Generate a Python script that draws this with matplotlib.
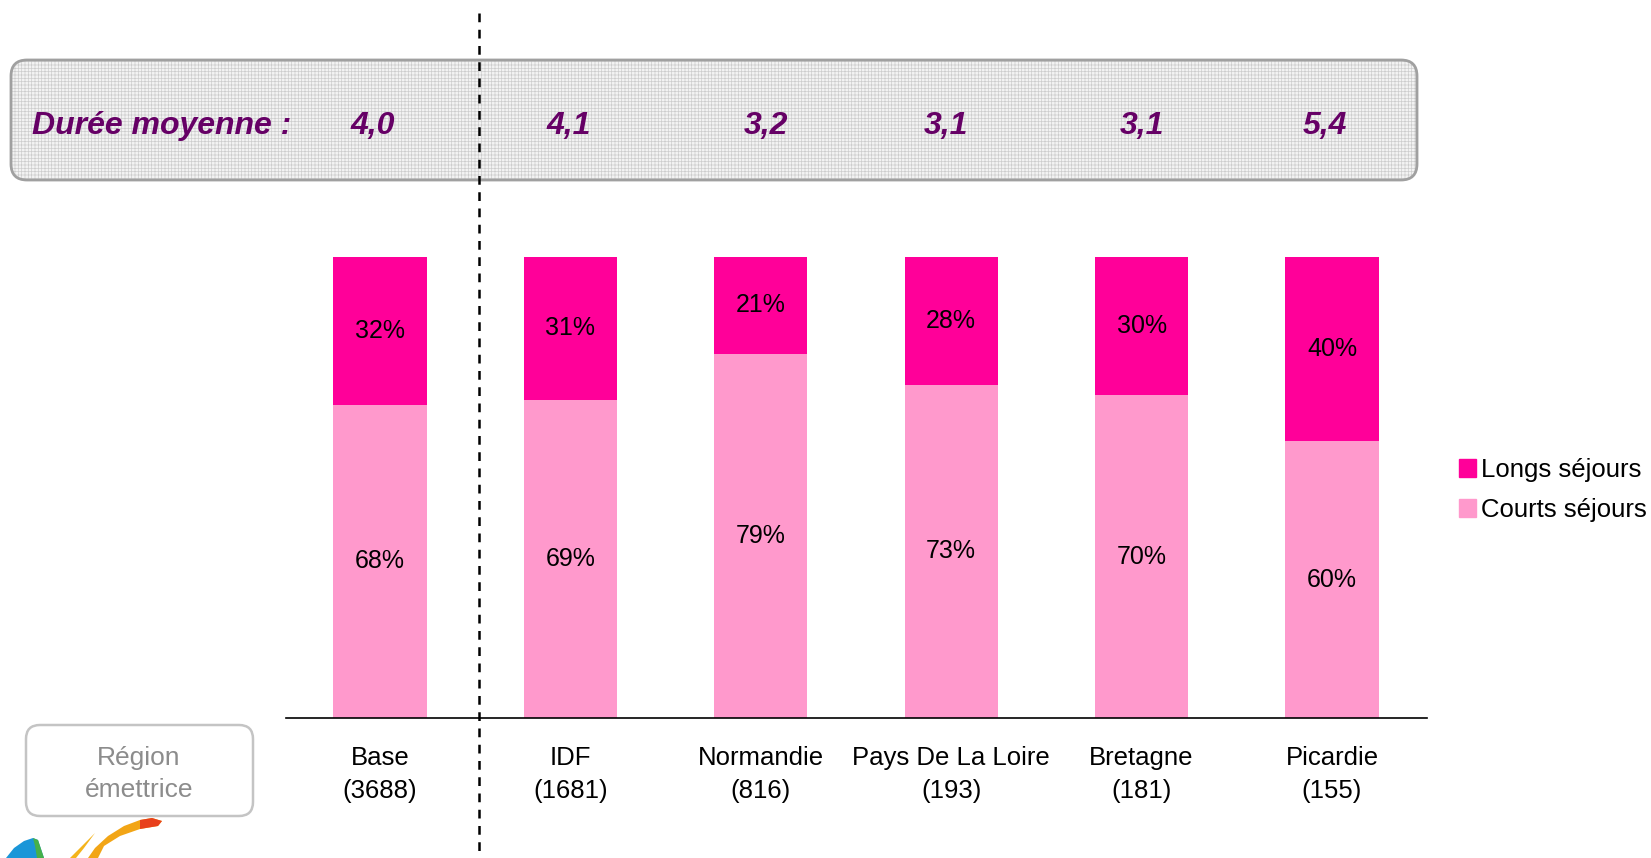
import matplotlib
matplotlib.use("Agg")
import matplotlib.pyplot as plt
from matplotlib.patches import FancyBboxPatch, Patch, Polygon
from matplotlib.lines import Line2D
from matplotlib.transforms import blended_transform_factory
import numpy as np

plt.rcParams['font.family'] = ['Liberation Sans', 'DejaVu Sans']
plt.rcParams['hatch.linewidth'] = 0.5

# ---- data ----
categories = ["Base", "IDF", "Normandie", "Pays De La Loire", "Bretagne", "Picardie"]
bases = ["(3688)", "(1681)", "(816)", "(193)", "(181)", "(155)"]
courts = [68, 69, 79, 73, 70, 60]
longs = [32, 31, 21, 28, 30, 40]
durees = ["4,0", "4,1", "3,2", "3,1", "3,1", "5,4"]
series_names = ["Longs séjours", "Courts séjours"]

col_longs = "#FF0099"
col_courts = "#FF99CC"
purple = "#660066"

W, H = 1651, 858
fig = plt.figure(figsize=(W / 100, H / 100), dpi=100)

# overlay in pixel coordinates
ov = fig.add_axes([0, 0, 1, 1], zorder=0)
ov.set_xlim(0, W)
ov.set_ylim(H, 0)
ov.axis("off")

# main axes
x0, x1, y0, y1 = 286, 1427, 718, 257
ax = fig.add_axes([x0 / W, 1 - y0 / H, (x1 - x0) / W, (y0 - y1) / H], zorder=2)
ax.patch.set_alpha(0)

x = np.arange(len(categories))
tot = np.array(courts, float) + np.array(longs, float)
c_pct = np.array(courts) / tot * 100
l_pct = np.array(longs) / tot * 100
width = 0.49
ax.bar(x, c_pct, width, color=col_courts, label=series_names[1])
ax.bar(x, l_pct, width, bottom=c_pct, color=col_longs, label=series_names[0])
for i in range(len(x)):
    ax.text(x[i], c_pct[i] / 2, f"{courts[i]}%", ha="center", va="center", fontsize=18, color="black")
    ax.text(x[i], c_pct[i] + l_pct[i] / 2, f"{longs[i]}%", ha="center", va="center", fontsize=18, color="black")

ax.set_xlim(-0.494, 5.499)
ax.set_ylim(0, 100)
for s in ["top", "right", "left"]:
    ax.spines[s].set_visible(False)
ax.spines["bottom"].set_color("black")
ax.spines["bottom"].set_linewidth(1.2)
ax.set_yticks([])
ax.set_xticks(x)
ax.set_xticklabels([f"{c}\n{b}" for c, b in zip(categories, bases)], fontsize=18.5, linespacing=1.5)
ax.tick_params(axis="x", length=0, pad=20)

# legend
handles = [Patch(color=col_longs), Patch(color=col_courts)]
fig.legend(handles, series_names, loc="center left",
           bbox_to_anchor=(1459 / W, 1 - 490 / H), frameon=False, fontsize=18.5,
           handlelength=0.66, handleheight=0.66, handletextpad=0.2,
           labelspacing=0.62, borderpad=0, borderaxespad=0)

# header box
box_kw = dict(boxstyle="round,pad=0,rounding_size=16")
hb = FancyBboxPatch((11, 60), 1406, 120, facecolor="#f3f3f3", edgecolor="#cdcdcd",
                    hatch="+++++", linewidth=0, **box_kw)
ov.add_patch(hb)
hb2 = FancyBboxPatch((11, 60), 1406, 120, facecolor="none", edgecolor="#a0a0a0",
                     linewidth=2, **box_kw)
ov.add_patch(hb2)
ov.text(32, 126, "Durée moyenne :", fontsize=23, fontweight="bold", fontstyle="italic",
        color=purple, ha="left", va="center")
tr = blended_transform_factory(ax.transData, ov.transData)
hdr_offsets = [-0.04, -0.01, 0.025, -0.03, 0.003, -0.04]
for i, d in enumerate(durees):
    ax.text(x[i] + hdr_offsets[i], 126, d, transform=tr, fontsize=23, fontweight="bold",
            fontstyle="italic", color=purple, ha="center", va="center", clip_on=False)

# dashed separator
ov.add_line(Line2D([479, 479], [13, H], color="black", linewidth=1.8,
                   dashes=(3.5, 3), zorder=5))

# "Région émettrice" box
rb = FancyBboxPatch((26, 725), 227, 91, boxstyle="round,pad=0,rounding_size=14",
                    facecolor="white", edgecolor="#c4c4c4", linewidth=1.8)
ov.add_patch(rb)
ov.text(139, 774, "Région\némettrice", fontsize=19, color="#8c8c8c", ha="center",
        va="center", linespacing=1.4)

# logo fragment (decorative)
ov.add_patch(Polygon([[88, 858], [95, 848], [108, 836], [124, 826], [140, 820],
                      [152, 818], [162, 821], [158, 826], [140, 829], [120, 836],
                      [104, 846], [98, 858]], closed=True, facecolor="#f2a516",
                     edgecolor="none"))
ov.add_patch(Polygon([[140, 820], [152, 818], [162, 821], [158, 826], [140, 829]],
                     closed=True, facecolor="#e8401c", edgecolor="none"))
ov.add_patch(Polygon([[70, 858], [80, 848], [95, 833], [84, 848], [76, 858]], closed=True,
                     facecolor="#f4b41c", edgecolor="none"))
ov.add_patch(Polygon([[6, 858], [14, 848], [24, 841], [33, 838], [38, 840], [44, 858]],
                     closed=True, facecolor="#1a96d8", edgecolor="none"))
ov.add_patch(Polygon([[33, 838], [38, 840], [44, 858], [37, 858], [35, 846]], closed=True,
                     facecolor="#46b04a", edgecolor="none"))

fig.savefig("out.png", dpi=100)
